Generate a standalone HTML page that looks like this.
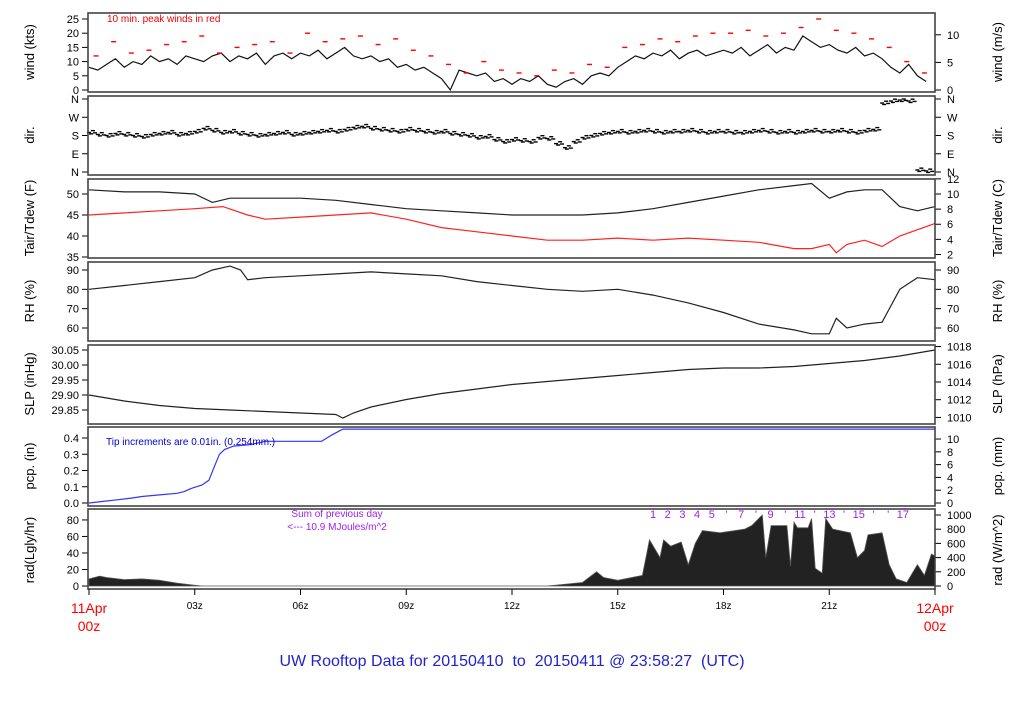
<!DOCTYPE html>
<html><head><meta charset="utf-8"><style>
body{margin:0;background:#fff;width:1024px;height:700px;overflow:hidden}
svg{font-family:"Liberation Sans",sans-serif}
</style></head><body>
<svg id="c" width="1024" height="700" viewBox="0 0 1024 700" xmlns="http://www.w3.org/2000/svg"></svg>
<script>
// ---- data ----
const windKts=[8,7,9,11,8,10,9,12,10,11,9,12, 11,10,12,13,10,12,11,13,9,12,13,11, 13,12,14,11,13,15,12,11,12,10,11,8, 9,7,8,6,4,0,7,6,5,6,3,4, 2,4,3,5,2,1,3,4,2,5,6,5, 8,10,12,11,13,12,14,11,13,14,12,13, 14,13,15,12,14,16,13,15,14,19,17,15, 16,14,13,15,12,13,11,8,6,9,5,3];
const gustKts=[12,17,13,14,16,17, 19,13,15,16,17,13, 20,17,18,19,16,18, 14,12,9,6,10,7, 6,5,7,6,9,8, 15,16,18,17,19,20, 20,21,19,20,22,25, 21,20,18,15,10,6];
const dirDeg=[195,185,180,190,185,180,175,185,190,195,185,190, 200,215,205,195,200,190,185,180,185,190,195,185, 190,195,200,205,200,210,220,225,215,210,205,200, 210,205,200,195,200,190,185,180,170,175,160,150, 160,155,150,170,165,140,120,150,170,180,190,195, 200,195,200,205,200,195,200,200,205,200,195,200, 200,195,195,200,205,200,195,200,195,200,205,200, 200,205,200,195,205,210,340,350,355,350,10,5];
const tHours=[0,1,2,3,3.5,4,5,6,7,8,9,10,11,12,13,14,15,16,17,18,19,20,20.5,21,21.5,22,22.5,23,23.5,24];
const tairF=[51,50.5,50.5,50,48,49,49,49,48.5,47.5,46.5,46,45.5,45,45,45,45.5,46.5,48,49.5,51,52,52.5,49,50.5,51,51,47,46,47];
const dewHours=[0,1,2,3,3.8,4.5,5,6,7,8,9,10,11,12,13,14,15,16,17,18,19,20,20.5,21,21.2,21.5,22,22.5,23,24];
const tdewF=[45,45.5,46,46.5,47,45,44,44.5,45,45.5,44,42,41,40,39,39,39.5,39,39.5,39,38.5,37,37,38,36,38,39,37.5,40,43];
const rhHours=[0,1,2,3,3.5,4,4.3,4.5,5,6,7,8,9,10,11,12,13,14,15,16,17,18,19,20,20.5,21,21.2,21.5,22,22.5,23,23.5,24];
const rhPct=[80,82,84,86,90,92,90,85,86,87,88,89,88,87,84,82,80,79,80,77,73,68,62,59,57,57,65,60,62,63,80,86,85];
const slpHours=[0,1,2,3,4,5,6,7,7.2,7.5,8,9,10,11,12,13,14,15,16,17,18,19,20,21,22,23,24];
const slpInHg=[29.90,29.88,29.865,29.855,29.85,29.845,29.84,29.835,29.823,29.84,29.86,29.885,29.905,29.92,29.935,29.945,29.955,29.965,29.975,29.985,29.99,29.99,29.995,30.005,30.015,30.03,30.05];
const pcpHours=[0,0.4,0.8,1.2,1.5,2,2.5,2.7,2.9,3.2,3.4,3.55,3.7,3.85,4.1,4.6,5,6.6,6.9,7.2,24];
const pcpIn=[0,0.01,0.02,0.03,0.04,0.05,0.06,0.07,0.09,0.11,0.14,0.22,0.3,0.33,0.35,0.36,0.38,0.38,0.42,0.455,0.455];
const radHours=[0,0.3,0.5,1,1.5,2,2.5,3,3.2,13,14,14.4,14.6,15,15.7,15.9,16.2,16.3,16.5,16.8,17,17.2,17.4,17.9,18.6,18.8,19.1,19.2,19.35,19.8,19.9,20,20.1,20.4,20.5,20.6,20.8,20.9,21.1,21.6,21.8,22,22.1,22.5,22.7,22.9,23.2,23.5,23.7,23.9,24];
const radWm2=[100,140,120,90,100,80,40,10,0,0,50,200,120,80,150,650,400,650,560,620,300,600,780,750,800,850,1000,400,850,850,280,900,820,820,950,250,180,950,800,750,400,500,720,750,300,100,50,300,150,450,420];
const xTickLabels=["03z","06z","09z","12z","15z","18z","21z"];
const hourMarks=["1","2","3","4","5","'","7","'","9","'","11","'","13","'","15","'","'","17"];
// ---- layout ----
const NS="http://www.w3.org/2000/svg",svg=document.getElementById('c');
const X0=89,X1=935;const X=h=>X0+h*(X1-X0)/24;
function el(t,a,p){const e=document.createElementNS(NS,t);for(const k in a)e.setAttribute(k,a[k]);(p||svg).appendChild(e);return e;}
function txt(s,x,y,o){const e=el('text',Object.assign({x:x,y:y,'font-size':11,fill:'#000'},o||{}));e.textContent=s;return e;}
function lin(v0,y0,v1,y1){return v=>y0+(v-v0)*(y1-y0)/(v1-v0);}
function line(hs,vs,ys,col,name){let d='';hs.forEach((h,i)=>{d+=(i?'L':'M')+X(h).toFixed(1)+' '+ys(vs[i]).toFixed(1);});const p=el('path',{d:d,fill:'none',stroke:col,'stroke-width':1.2});return p;}
const panels=[[13,92],[96,175],[179,258],[262,341],[345,424],[427,506],[509,589]];
function frame(i,name){const [t,b]=panels[i];const r=el('rect',{x:88,y:t,width:847,height:b-t,fill:'none',stroke:'#444','stroke-width':1.6});}
function ticksL(vals,labels,ys){vals.forEach((v,i)=>{const y=ys(v);el('line',{x1:82,x2:88,y1:y,y2:y,stroke:'#000'});txt(labels[i],79,y+4,{'text-anchor':'end'});});}
function ticksR(vals,labels,ys){vals.forEach((v,i)=>{const y=ys(v);el('line',{x1:935,x2:941,y1:y,y2:y,stroke:'#000'});txt(labels[i],947,y+4);});}
function ylab(s,x,y,name){const e=txt(s,x,y,{'font-size':13,transform:`rotate(-90 ${x} ${y})`,'text-anchor':'middle'});}
// P1 wind
const yW=lin(0,90,25,19);
ticksL([0,5,10,15,20,25],['0','5','10','15','20','25'],yW);
ticksR([0,5,10],['0','5','10'],ms=>yW(ms/0.5144));
line(windKts.map((v,i)=>i*0.25),windKts,yW,'#111','wind-speed-line');
gustKts.forEach((g,i)=>{const r=el('rect',{x:X(i*0.5+0.2)-2.5,y:yW(g)-0.7,width:5,height:1.4,fill:'#f00'});});
txt('10 min. peak winds in red',107,22,{'font-size':10,fill:'#e00'});
ylab('wind (kts)',34,52,'wind-kts-title');ylab('wind (m/s)',1002,52,'wind-ms-title');frame(0,'wind-panel');
// P2 dir
const yD=lin(0,172,360,99);
ticksL([0,90,180,270,360],['N','E','S','W','N'],yD);ticksR([0,90,180,270,360],['N','E','S','W','N'],yD);
dirDeg.forEach((d,i)=>{for(const o of [[0,0],[4,9],[2,-7],[6,-2]]){const r=el('rect',{x:X(i*0.25)+o[0]-2,y:yD(Math.min(360,d+o[1]))-0.7,width:4,height:1.4,fill:'#000'});}});
ylab('dir.',34,135,'dir-title');ylab('dir.',1002,135,'dir-title-right');frame(1,'dir-panel');
// P3 temp
const yT=lin(50,194,35,257);
ticksL([35,40,45,50],['35','40','45','50'],yT);
ticksR([2,4,6,8,10,12],['2','4','6','8','10','12'],c=>yT(c*9/5+32));
line(dewHours,tdewF,yT,'#f22','tdew-line');line(tHours,tairF,yT,'#222','tair-line');
ylab('Tair/Tdew (F)',34,218,'temp-f-title');ylab('Tair/Tdew (C)',1002,218,'temp-c-title');frame(2,'temp-panel');
// P4 RH
const yR=lin(90,270,60,328);
ticksL([60,70,80,90],['60','70','80','90'],yR);ticksR([60,70,80,90],['60','70','80','90'],yR);
line(rhHours,rhPct,yR,'#222','rh-line');
ylab('RH (%)',34,301,'rh-title');ylab('RH (%)',1002,301,'rh-title-right');frame(3,'rh-panel');
// P5 SLP
const yS=lin(30.05,350,29.85,410);
ticksL([29.85,29.90,29.95,30.00,30.05],['29.85','29.90','29.95','30.00','30.05'],yS);
ticksR([1010,1012,1014,1016,1018],['1010','1012','1014','1016','1018'],h=>yS(h/33.8639));
line(slpHours,slpInHg,yS,'#222','slp-line');
ylab('SLP (inHg)',34,384,'slp-inhg-title');ylab('SLP (hPa)',1002,384,'slp-hpa-title');frame(4,'slp-panel');
// P6 pcp
const yP=lin(0,503,0.4,438);
ticksL([0,0.1,0.2,0.3,0.4],['0.0','0.1','0.2','0.3','0.4'],yP);
ticksR([0,2,4,6,8,10],['0','2','4','6','8','10'],m=>yP(m/25.4));
(function(){let d='';pcpHours.forEach((h,i)=>{d+=(i?'L':'M')+X(h).toFixed(1)+' '+yP(pcpIn[i]).toFixed(1);});const p=el('path',{d:d,fill:'none',stroke:'#33f','stroke-width':1.2});})();
txt('Tip increments are 0.01in. (0.254mm.)',106,445,{'font-size':10,fill:'#00c'});
ylab('pcp. (in)',34,466,'pcp-in-title');ylab('pcp. (mm)',1002,466,'pcp-mm-title');frame(5,'pcp-panel');
// P7 rad
const yRad=lin(0,586,1000,515);
ticksL([0,20,40,60,80],['0','20','40','60','80'],l=>yRad(l*11.63));
ticksR([0,200,400,600,800,1000],['0','200','400','600','800','1000'],yRad);
(function(){let d='M'+X(radHours[0])+' '+yRad(0);radHours.forEach((h,i)=>{d+='L'+X(h).toFixed(1)+' '+yRad(radWm2[i]).toFixed(1);});d+='L'+X(radHours[radHours.length-1])+' '+yRad(0)+'Z';const p=el('path',{d:d,fill:'#222',stroke:'#555','stroke-width':0.8});})();
txt('Sum of previous day',337,517,{'font-size':10,fill:'#a020f0','text-anchor':'middle'});
txt('<--- 10.9 MJoules/m^2',337,530,{'font-size':10,fill:'#a020f0','text-anchor':'middle'});
hourMarks.forEach((s,i)=>{const t=txt(s,653+i*14.7,518,{'font-size':11,fill:'#a020f0','text-anchor':'middle'});});
ylab('rad(Lgly/hr)',34,550,'rad-ly-title');ylab('rad (W/m^2)',1002,550,'rad-wm2-title');frame(6,'rad-panel');
// x axis
[0,3,6,9,12,15,18,21,24].forEach(h=>el('line',{x1:X(h),x2:X(h),y1:589,y2:595,stroke:'#000'}));
xTickLabels.forEach((s,i)=>{const t=txt(s,X(3*(i+1)),609,{'font-size':10,'text-anchor':'middle'});});
txt('11Apr',89,613,{'font-size':14,fill:'#f00','text-anchor':'middle'});txt('00z',89,631,{'font-size':14,fill:'#f00','text-anchor':'middle'});
txt('12Apr',935,613,{'font-size':14,fill:'#f00','text-anchor':'middle'});txt('00z',935,631,{'font-size':14,fill:'#f00','text-anchor':'middle'});
const ti=txt('UW Rooftop Data for 20150410  to  20150411 @ 23:58:27  (UTC)',512,666,{'font-size':16,fill:'#22c','text-anchor':'middle',style:'white-space:pre'});

</script>
</body></html>
